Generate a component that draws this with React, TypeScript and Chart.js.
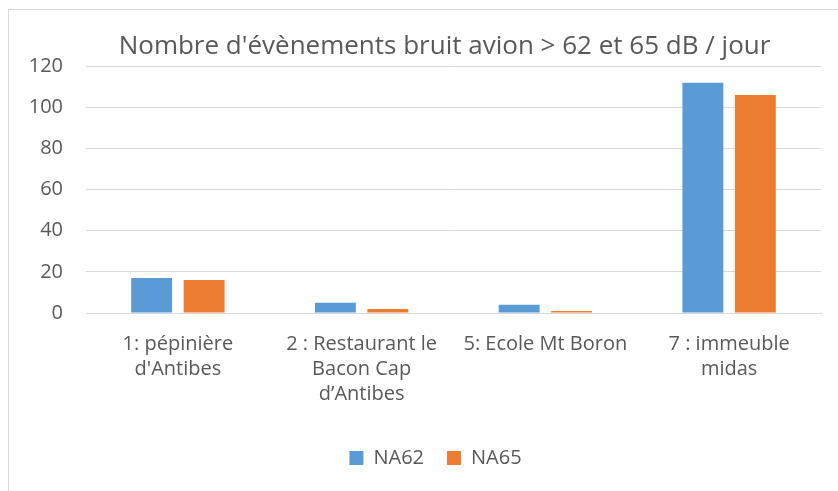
import React, { useEffect, useRef } from "react";
import { Chart, registerables } from "chart.js";

Chart.register(...registerables);

const categories: string[][] = [
  ["1: pépinière", "d'Antibes"],
  ["2 : Restaurant le", "Bacon Cap", "d\u2019Antibes"],
  ["5: Ecole Mt Boron"],
  ["7 : immeuble", "midas"],
];
const na62: number[] = [17, 5, 4, 112];
const na65: number[] = [16, 2, 1, 106];
const seriesNames = ["NA62", "NA65"];
const titleText = "Nombre d'évènements bruit avion > 62 et 65 dB / jour";

const FONT = "'Open Sans', sans-serif";
const TEXT = "#595959";
const GRID = "#d9d9d9";

const boxShift = {
  id: "boxShift",
  afterLayout(chart: any) {
    const t = chart.titleBlock;
    if (t) t.left = t.left + 42;
    const l = chart.legend;
    if (l) l.left = l.left + 24;
  },
};

export default function App() {
  const ref = useRef<HTMLCanvasElement | null>(null);
  useEffect(() => {
    if (!ref.current) return;
    const chart = new Chart(ref.current, {
      type: "bar",
      data: {
        labels: categories,
        datasets: [
          {
            label: seriesNames[0],
            data: na62,
            backgroundColor: "#5B9BD5",
            barPercentage: 0.78,
            categoryPercentage: 0.571,
          },
          {
            label: seriesNames[1],
            data: na65,
            backgroundColor: "#ED7D31",
            barPercentage: 0.78,
            categoryPercentage: 0.571,
          },
        ],
      },
      plugins: [boxShift],
      options: {
        responsive: false,
        animation: false,
        layout: { padding: { left: 26, right: 17, top: 0, bottom: 13 } },
        plugins: {
          title: {
            display: true,
            text: titleText,
            color: TEXT,
            font: { family: FONT, size: 26, weight: "normal", lineHeight: 1.2 },
            padding: { top: 31, bottom: 4 },
          },
          legend: {
            position: "bottom",
            labels: {
              color: TEXT,
              font: { family: FONT, size: 20 },
              boxWidth: 14,
              boxHeight: 14,
              padding: 23,
            },
          },
          tooltip: { enabled: false },
        },
        scales: {
          x: {
            grid: { display: false, drawTicks: false },
            border: { display: true, color: GRID },
            ticks: {
              color: TEXT,
              font: { family: FONT, size: 20, lineHeight: 1.25 },
              padding: 18.5,
              maxRotation: 0,
              autoSkip: false,
            },
          },
          y: {
            min: 0,
            max: 120,
            grid: { color: GRID, drawTicks: false },
            border: { display: false },
            ticks: {
              stepSize: 20,
              color: TEXT,
              font: { family: FONT, size: 20 },
              padding: 23,
            },
            afterFit: (s: any) => {
              s.width = 60;
            },
          },
        },
      },
    });
    return () => chart.destroy();
  }, []);
  return (
    <div style={{ position: "fixed", left: 0, top: 0, width: 838, height: 491, overflow: "hidden", background: "#fff" }}>
      <div style={{ position: "absolute", left: 8, top: 9, width: 900, height: 600, border: `1px solid ${GRID}`, boxSizing: "border-box" }} />
      <canvas ref={ref} width={838} height={491} style={{ position: "absolute", left: 0, top: 0 }} />
    </div>
  );
}
